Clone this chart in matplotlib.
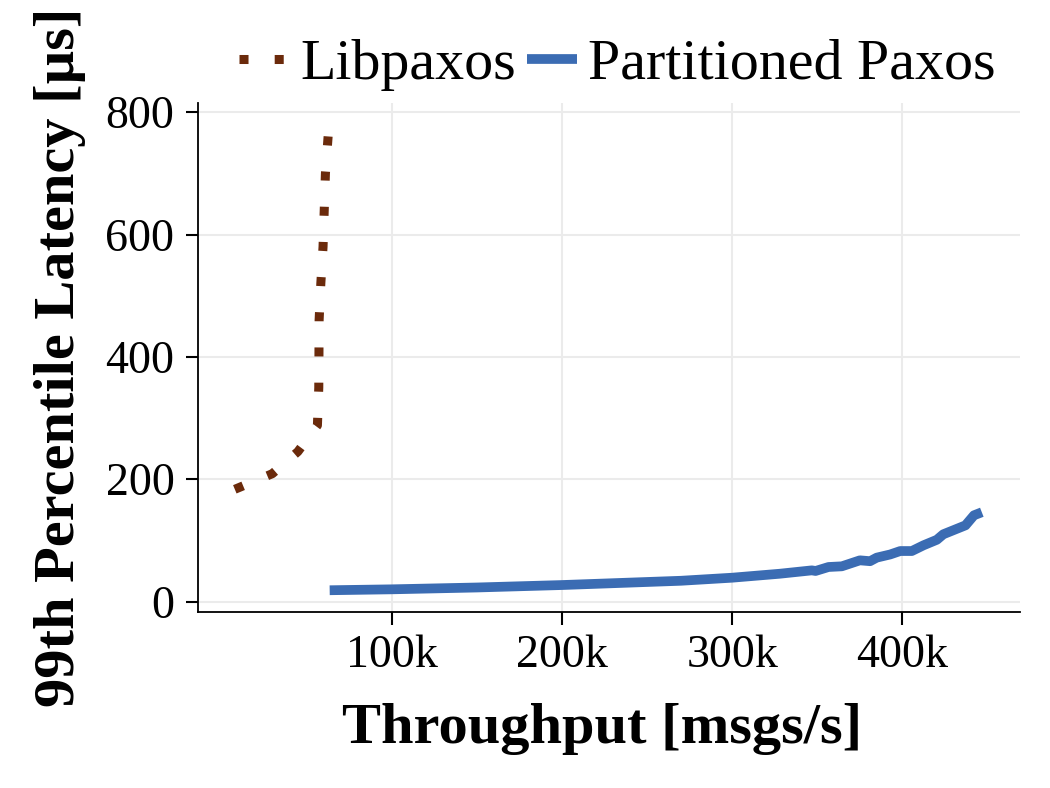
import matplotlib
matplotlib.use("Agg")
import matplotlib.pyplot as plt

# Data (throughput in msgs/s, 99th percentile latency in µs)
lib_x = [8000, 30000, 45000, 56500, 57300, 57500, 58500, 59800, 60500, 61200, 62900]
lib_y = [183.5, 209, 245, 288, 350, 460, 520, 580, 640, 700, 765]

pp_x = [63700, 100000, 150000, 200000, 250000, 270000, 300000, 328000, 346800, 349000,
        356600, 364400, 375000, 381000, 384900, 392800, 398700, 405500, 412400,
        420200, 424000, 437000, 442000, 446600]
pp_y = [18.5, 20, 23, 27, 32, 34, 39, 45.5, 51, 50, 56.5, 57.6, 67.4, 66, 71.8,
        77, 82.6, 82.6, 92, 101, 110, 124.6, 141, 146]

xticks = [100000, 200000, 300000, 400000]
xtick_labels = ["100k", "200k", "300k", "400k"]
yticks = [0, 200, 400, 600, 800]

plt.rcParams['font.family'] = ['Liberation Serif', 'DejaVu Serif']

fig = plt.figure(figsize=(10.5, 7.88), dpi=100)
ax = fig.add_axes([0.1886, 0.2234, 0.9714 - 0.1886, 0.8693 - 0.2234])

brown = '#6b2a0b'
blue = '#3b6cb3'

ax.plot(lib_x, lib_y, color=brown, lw=6.5, linestyle=(0, (1, 2.9)),
        dash_capstyle='butt', label='Libpaxos')
ax.plot(pp_x, pp_y, color=blue, lw=7, solid_capstyle='butt',
        label='Partitioned Paxos')

ax.set_xlim(-13600, 469000)
ax.set_ylim(-17, 815)
ax.set_xticks(xticks)
ax.set_xticklabels(xtick_labels)
ax.set_yticks(yticks)

ax.grid(True, color='#ebebeb', lw=1.5)
ax.set_axisbelow(True)
for s in ['top', 'right']:
    ax.spines[s].set_visible(False)
for s in ['left', 'bottom']:
    ax.spines[s].set_linewidth(1.3)
    ax.spines[s].set_color('black')

ax.tick_params(axis='both', direction='out', length=9, width=1.5,
               labelsize=33, colors='black')
ax.tick_params(axis='y', pad=8)
ax.tick_params(axis='x', pad=7)

ax.set_xlabel('Throughput [msgs/s]', fontsize=42, fontweight='bold')
ax.xaxis.set_label_coords(0.491, -0.178, transform=ax.transAxes)
ax.set_ylabel('99th Percentile Latency [µs]', fontsize=42, fontweight='bold', labelpad=14)

fig.legend(loc='center left', bbox_to_anchor=(0.2276, 0.918), ncol=2,
           frameon=False, fontsize=41.8, handlelength=0.85, handletextpad=0.2,
           columnspacing=0.2, borderpad=0, borderaxespad=0)

fig.savefig('out.png', dpi=100)
